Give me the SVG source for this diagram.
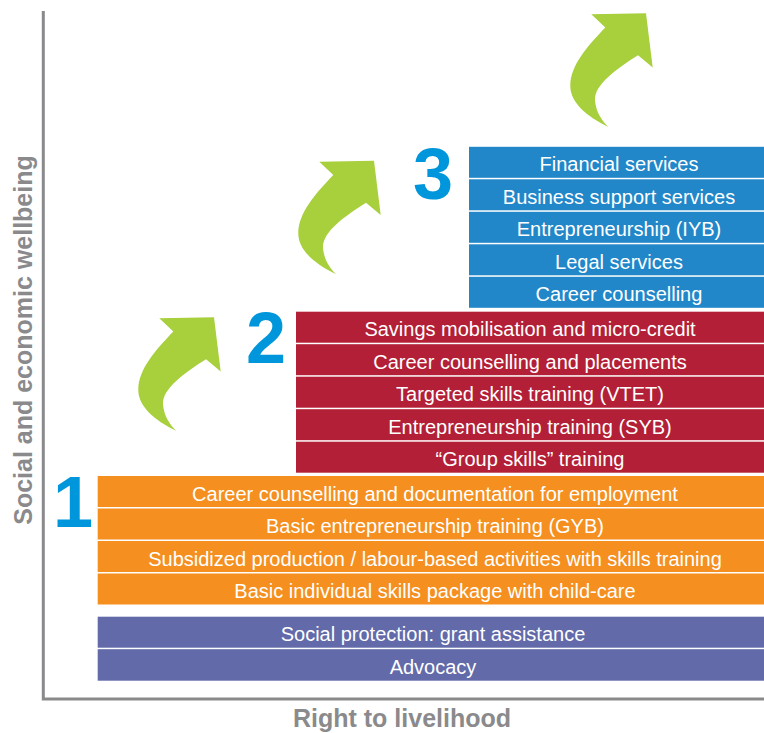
<svg xmlns="http://www.w3.org/2000/svg" width="764" height="733" viewBox="0 0 764 733">
  <style>
    .row text { font-family: "Liberation Sans", Arial, sans-serif; font-size: 20px; fill: #ffffff; text-anchor: middle; }
    .blue rect { fill: #2187c9; }
    .red rect { fill: #b21f36; }
    .orange rect { fill: #f48f20; }
    .purple rect { fill: #626aa9; }
    .num { font-family: "Liberation Sans", Arial, sans-serif; font-weight: bold; font-size: 72px; fill: #0096db; }
    .axis-label { font-family: "Liberation Sans", Arial, sans-serif; font-weight: bold; font-size: 25px; fill: #8a8a8c; text-anchor: middle; }
    .axis { stroke: #8a8a8c; stroke-width: 3; fill: none; }
    .arrow { fill: #a8cf3c; }
  </style>
  <defs>
    <!-- curved upward step arrow -->
    <path id="step-arrow" d="M319.3,161.7 L374,160.7 L380.7,215 L366,202.7 C345,216 322,232 323,248 C324,260 330,268 336,274.3 C315,264 298,250 298.3,233 C298.5,213 315,194 333.3,175 Z"/>
  </defs>
  <rect width="764" height="733" fill="#ffffff"/>

  <!-- axes -->
  <g id="axes">
    <path class="axis" d="M43.3,11 V699 H764"/>
    <text class="axis-label" transform="translate(31.5,340) rotate(-90)">Social and economic wellbeing</text>
    <text class="axis-label" x="402" y="727">Right to livelihood</text>
  </g>

  <!-- arrows between levels -->
  <g id="connectors">
    <use href="#step-arrow" class="arrow" transform="translate(-160,156.5)"/>
    <use href="#step-arrow" class="arrow"/>
    <use href="#step-arrow" class="arrow" transform="translate(272,-147.4)"/>
  </g>

  <!-- level numbers -->
  <g id="level-numbers">
    <text class="num" x="53" y="526.7">1</text>
    <text class="num" x="246" y="363.3">2</text>
    <text class="num" x="413" y="198.5">3</text>
  </g>

  <!-- level 3 -->
  <g id="level-3" class="blue">
    <g id="financial-services" class="row"><rect x="469" y="146.8" width="295" height="31"/><text x="619" y="171.3">Financial services</text></g>
    <g id="business-support" class="row"><rect x="469" y="179.3" width="295" height="31"/><text x="619" y="203.8">Business support services</text></g>
    <g id="entrepreneurship-iyb" class="row"><rect x="469" y="211.8" width="295" height="31"/><text x="619" y="236.3">Entrepreneurship (IYB)</text></g>
    <g id="legal-services" class="row"><rect x="469" y="244.3" width="295" height="31"/><text x="619" y="268.8">Legal services</text></g>
    <g id="career-counselling" class="row"><rect x="469" y="276.8" width="295" height="31"/><text x="619" y="301.3">Career counselling</text></g>
  </g>

  <!-- level 2 -->
  <g id="level-2" class="red">
    <g id="savings" class="row"><rect x="296" y="311.7" width="468" height="31"/><text x="530" y="336.2">Savings mobilisation and micro-credit</text></g>
    <g id="career-placements" class="row"><rect x="296" y="344.2" width="468" height="31"/><text x="530" y="368.7">Career counselling and placements</text></g>
    <g id="targeted-skills" class="row"><rect x="296" y="376.7" width="468" height="31"/><text x="530" y="401.2">Targeted skills training (VTET)</text></g>
    <g id="entrepreneurship-syb" class="row"><rect x="296" y="409.2" width="468" height="31"/><text x="530" y="433.7">Entrepreneurship training (SYB)</text></g>
    <g id="group-skills" class="row"><rect x="296" y="441.7" width="468" height="31"/><text x="530" y="466.2">“Group skills” training</text></g>
  </g>

  <!-- level 1 -->
  <g id="level-1" class="orange">
    <g id="career-documentation" class="row"><rect x="97.7" y="476" width="666.3" height="31"/><text x="435" y="500.5">Career counselling and documentation for employment</text></g>
    <g id="basic-entrepreneurship" class="row"><rect x="97.7" y="508.5" width="666.3" height="31"/><text x="435" y="533">Basic entrepreneurship training (GYB)</text></g>
    <g id="subsidized-production" class="row"><rect x="97.7" y="541" width="666.3" height="31"/><text x="435" y="565.5">Subsidized production / labour-based activities with skills training</text></g>
    <g id="individual-skills" class="row"><rect x="97.7" y="573.5" width="666.3" height="31"/><text x="435" y="598">Basic individual skills package with child-care</text></g>
  </g>

  <!-- base -->
  <g id="base" class="purple">
    <g id="social-protection" class="row"><rect x="97.7" y="616.7" width="666.3" height="31"/><text x="433" y="641.2">Social protection: grant assistance</text></g>
    <g id="advocacy" class="row"><rect x="97.7" y="649.2" width="666.3" height="31.5"/><text x="433" y="673.7">Advocacy</text></g>
  </g>
</svg>
